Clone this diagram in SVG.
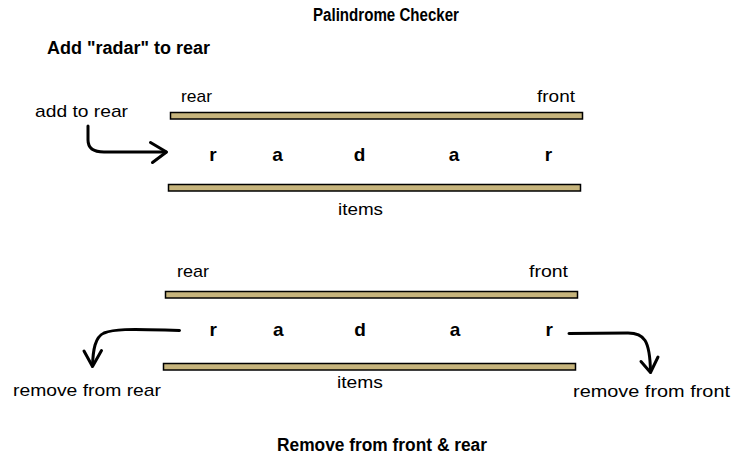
<svg xmlns="http://www.w3.org/2000/svg" width="743" height="462" viewBox="0 0 743 462">
<style>
.t{font-family:"Liberation Sans",Arial,sans-serif;font-size:17px;fill:#000}
.b{font-family:"Liberation Sans",Arial,sans-serif;font-size:18px;font-weight:bold;fill:#000}
.l{font-family:"Liberation Sans",Arial,sans-serif;font-size:19px;font-weight:bold;fill:#000;text-anchor:middle}
.bar{fill:#c6b47c;stroke:#000;stroke-width:1.5}
.arr{fill:none;stroke:#000;stroke-width:3;stroke-linecap:round;stroke-linejoin:round}
</style>
<rect width="743" height="462" fill="#fff"/>
<g id="titles">
<text class="b" x="313" y="21" textLength="146" lengthAdjust="spacingAndGlyphs">Palindrome Checker</text>
<text class="b" x="47" y="54" textLength="163" lengthAdjust="spacingAndGlyphs">Add "radar" to rear</text>
<text class="b" x="277" y="451" textLength="210" lengthAdjust="spacingAndGlyphs">Remove from front &amp; rear</text>
</g>
<g id="deque1">
<text class="t" x="181" y="102" textLength="31" lengthAdjust="spacingAndGlyphs">rear</text>
<text class="t" x="537" y="102" textLength="38" lengthAdjust="spacingAndGlyphs">front</text>
<rect class="bar" x="170.5" y="112.5" width="412" height="6.5"/>
<text class="l" x="213" y="161">r</text>
<text class="l" x="277.5" y="161">a</text>
<text class="l" x="359.5" y="161">d</text>
<text class="l" x="454" y="161">a</text>
<text class="l" x="548.5" y="161">r</text>
<rect class="bar" x="168.5" y="184.5" width="412" height="6.5"/>
<text class="t" x="338" y="215" textLength="45" lengthAdjust="spacingAndGlyphs">items</text>
</g>
<g id="addlabel">
<text class="t" x="35" y="117" textLength="93" lengthAdjust="spacingAndGlyphs">add to rear</text>
</g>
<g id="deque2">
<text class="t" x="177" y="277" textLength="32" lengthAdjust="spacingAndGlyphs">rear</text>
<text class="t" x="529" y="277" textLength="39" lengthAdjust="spacingAndGlyphs">front</text>
<rect class="bar" x="165.5" y="291.5" width="412" height="6.5"/>
<text class="l" x="213.3" y="336">r</text>
<text class="l" x="278.3" y="336">a</text>
<text class="l" x="360" y="336">d</text>
<text class="l" x="455" y="336">a</text>
<text class="l" x="549.3" y="336">r</text>
<rect class="bar" x="163.5" y="363.5" width="412" height="6.5"/>
<text class="t" x="337" y="388" textLength="46" lengthAdjust="spacingAndGlyphs">items</text>
</g>
<g id="removelabels">
<text class="t" x="13" y="396" textLength="148" lengthAdjust="spacingAndGlyphs">remove from rear</text>
<text class="t" x="573" y="397" textLength="157" lengthAdjust="spacingAndGlyphs">remove from front</text>
</g>
<g id="connectors">
<path class="arr" d="M88,126 L88,140 C88,149 94,152 104,152 L166,152"/>
<path class="arr" d="M150.5,142.5 L166.5,152 L152.5,162.5"/>
<path class="arr" d="M179.5,330.5 L165,330 C130,329 114,329 104,333 C95,337 93,350 92.5,366"/>
<path class="arr" d="M84,351 L92.5,366.5 L101.5,350.5"/>
<path class="arr" d="M569,333.5 L628,333 C644,333 650,340 650.5,372"/>
<path class="arr" d="M641,361.5 L650.5,372.5 L658,357"/>
</g>
</svg>
